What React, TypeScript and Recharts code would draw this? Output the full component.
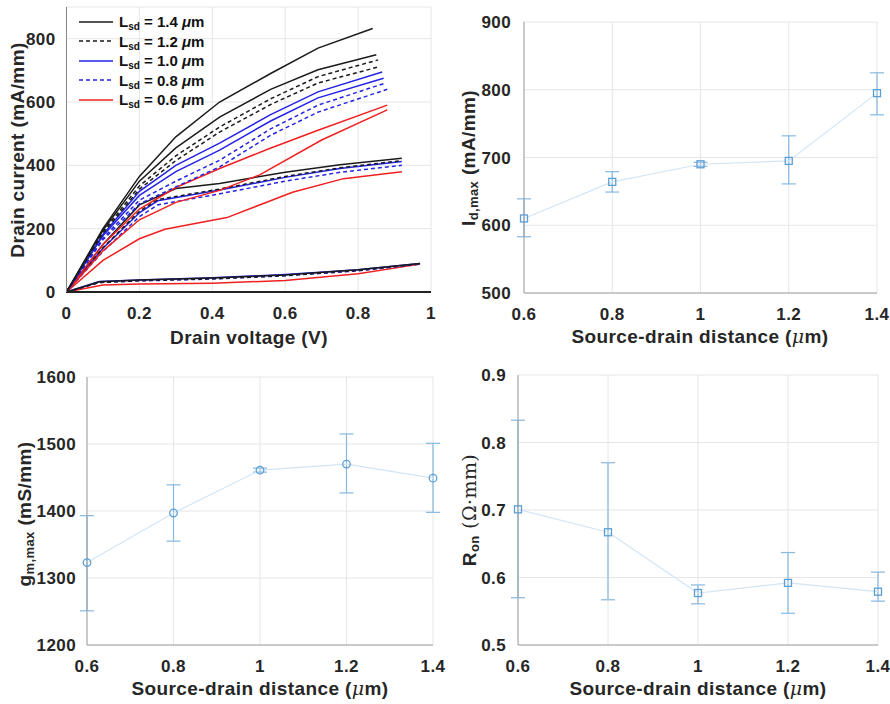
import React from 'react';
import { LineChart, Line, XAxis, YAxis, CartesianGrid, ErrorBar, Legend } from 'recharts';

const W = 890;
const H = 704;
const FONT = '"Liberation Sans", Arial, sans-serif';
const TXT = '#262626';
const GRID = '#e6e6e6';
const BORDER = '#c8c8c8';
const AXIS = '#a0a0a0';
const MARK = '#5e9fd3';
const ERR = '#86b8e0';
const LINK = '#d3e5f4';

// ---- output curves, drain voltage (V) vs drain current (mA/mm) ----
type Pt = [number, number];

// high gate bias
const hi14a: Pt[] = [[0, 0], [0.1, 200], [0.2, 365], [0.3, 490], [0.42, 600], [0.56, 690], [0.69, 770], [0.84, 832]];
const hi14b: Pt[] = [[0, 0], [0.1, 195], [0.2, 350], [0.3, 455], [0.42, 552], [0.56, 640], [0.69, 702], [0.85, 749]];
const hi12a: Pt[] = [[0, 0], [0.1, 190], [0.2, 335], [0.3, 430], [0.42, 521], [0.56, 610], [0.69, 680], [0.855, 733]];
const hi12b: Pt[] = [[0, 0], [0.1, 185], [0.2, 325], [0.3, 415], [0.42, 505], [0.56, 592], [0.69, 660], [0.86, 712]];
const hi10a: Pt[] = [[0, 0], [0.1, 182], [0.2, 318], [0.3, 400], [0.42, 470], [0.56, 560], [0.69, 632], [0.866, 695]];
const hi10b: Pt[] = [[0, 0], [0.1, 178], [0.2, 305], [0.3, 380], [0.42, 448], [0.56, 540], [0.69, 613], [0.87, 675]];
const hi08a: Pt[] = [[0, 0], [0.1, 170], [0.2, 290], [0.3, 350], [0.42, 416], [0.56, 515], [0.69, 590], [0.875, 660]];
const hi08b: Pt[] = [[0, 0], [0.1, 165], [0.2, 278], [0.3, 332], [0.42, 395], [0.56, 495], [0.69, 568], [0.88, 640]];
const hi06a: Pt[] = [[0, 0], [0.1, 150], [0.2, 262], [0.3, 330], [0.42, 390], [0.55, 450], [0.69, 511], [0.88, 590]];
const hi06b: Pt[] = [[0, 0], [0.1, 130], [0.2, 228], [0.3, 283], [0.42, 321], [0.53, 370], [0.7, 480], [0.88, 575]];

// middle gate bias
const mid14: Pt[] = [[0, 0], [0.1, 150], [0.2, 275], [0.3, 327], [0.42, 343], [0.6, 378], [0.75, 402], [0.92, 422]];
const mid12: Pt[] = [[0, 0], [0.1, 140], [0.2, 255], [0.25, 292], [0.42, 325], [0.6, 365], [0.75, 392], [0.92, 415]];
const mid10: Pt[] = [[0, 0], [0.1, 138], [0.2, 250], [0.25, 288], [0.42, 322], [0.6, 362], [0.75, 390], [0.92, 412]];
const mid08: Pt[] = [[0, 0], [0.1, 128], [0.2, 238], [0.25, 275], [0.42, 310], [0.6, 350], [0.75, 378], [0.92, 400]];
const mid06: Pt[] = [[0, 0], [0.1, 100], [0.2, 168], [0.27, 198], [0.44, 235], [0.62, 315], [0.76, 358], [0.92, 380]];

// low gate bias
const low14: Pt[] = [[0, 0], [0.09, 32], [0.2, 38], [0.4, 44], [0.6, 54], [0.8, 70], [0.97, 90]];
const low12: Pt[] = [[0, 0], [0.09, 30], [0.2, 36], [0.4, 42], [0.6, 52], [0.8, 68], [0.97, 89]];
const low10: Pt[] = [[0, 0], [0.09, 33], [0.2, 38], [0.4, 45], [0.6, 55], [0.8, 70], [0.97, 90]];
const low08: Pt[] = [[0, 0], [0.09, 30], [0.2, 35], [0.4, 41], [0.6, 51], [0.8, 67], [0.97, 88]];
const low06: Pt[] = [[0, 0], [0.1, 22], [0.2, 25], [0.4, 28], [0.6, 36], [0.8, 58], [0.97, 88]];

const lsdLabels = ['1.4', '1.2', '1.0', '0.8', '0.6'];

// which L_sd each curve belongs to (index into lsdLabels)
const curves: { pts: Pt[]; lsd: number }[] = [
  { pts: low06, lsd: 4 }, { pts: low08, lsd: 3 }, { pts: low12, lsd: 1 }, { pts: low10, lsd: 2 }, { pts: low14, lsd: 0 },
  { pts: mid06, lsd: 4 }, { pts: mid08, lsd: 3 }, { pts: mid10, lsd: 2 }, { pts: mid12, lsd: 1 }, { pts: mid14, lsd: 0 },
  { pts: hi06a, lsd: 4 }, { pts: hi06b, lsd: 4 }, { pts: hi08a, lsd: 3 }, { pts: hi08b, lsd: 3 },
  { pts: hi10a, lsd: 2 }, { pts: hi10b, lsd: 2 }, { pts: hi12a, lsd: 1 }, { pts: hi12b, lsd: 1 },
  { pts: hi14a, lsd: 0 }, { pts: hi14b, lsd: 0 },
];

const lsdStyle = [
  { color: '#1a1a1a', dash: undefined },
  { color: '#1a1a1a', dash: '4 3' },
  { color: '#2323e6', dash: undefined },
  { color: '#2323e6', dash: '4 3' },
  { color: '#f02020', dash: undefined },
];

// ---- summary vs source-drain distance ----
const lsdX = [0.6, 0.8, 1.0, 1.2, 1.4];

const idMax = [610, 664, 690, 695, 795];
const idLo = [583, 649, 687, 661, 763];
const idHi = [639, 679, 693, 732, 825];

const gmMax = [1323, 1397, 1461, 1470, 1449];
const gmLo = [1251, 1355, 1458, 1427, 1398];
const gmHi = [1393, 1439, 1464, 1515, 1501];

const ron = [0.701, 0.667, 0.577, 0.592, 0.579];
const ronLo = [0.57, 0.567, 0.561, 0.547, 0.565];
const ronHi = [0.833, 0.77, 0.589, 0.637, 0.608];

const buildTable = (y: number[], lo: number[], hi: number[]) =>
  lsdX.map((x, k) => ({ x, y: y[k], err: [y[k] - lo[k], hi[k] - y[k]] }));

interface Rect { left: number; top: number; right: number; bottom: number }
const YW = 60;
const XH = 40;
const marginFor = (r: Rect) => ({ top: r.top, left: r.left - YW, right: W - r.right, bottom: H - r.bottom - XH });

const tickStyle = { fontSize: 17, fontWeight: 'bold', fill: TXT, fontFamily: FONT, letterSpacing: 0.4 } as any;
const titleStyle = { fontSize: 19, fontWeight: 'bold', fill: TXT, fontFamily: FONT, letterSpacing: 0.4 } as any;

const xTitle = (x: number, y: number) => () => (
  <text x={x} y={y} textAnchor="middle" dominantBaseline="central" style={titleStyle}>
    Source-drain distance (<tspan fontStyle="italic" fontFamily="'DejaVu Serif', serif" fontWeight="normal">μ</tspan>m)
  </text>
);

const squareDot = (p: any) => (
  <rect key={`sq-${p.index}`} x={p.cx - 3.5} y={p.cy - 3.5} width={7} height={7} fill="none" stroke={MARK} strokeWidth={1.3} />
);
const circleDot = (p: any) => (
  <circle key={`ci-${p.index}`} cx={p.cx} cy={p.cy} r={3.8} fill="none" stroke={MARK} strokeWidth={1.3} />
);

const LegendBox = () => (
  <div style={{ fontFamily: FONT, fontWeight: 'bold', fontSize: 15, color: '#111' }}>
    {lsdLabels.map((lab, k) => (
      <div key={lab} style={{ display: 'flex', alignItems: 'center', height: 19.5, whiteSpace: 'nowrap' }}>
        <svg width={34} height={10}>
          <line x1={0} x2={34} y1={5} y2={5} stroke={lsdStyle[k].color} strokeWidth={1.6} strokeDasharray={lsdStyle[k].dash} />
        </svg>
        <span style={{ marginLeft: 6 }}>
          L<sub style={{ fontSize: 10, verticalAlign: -3, lineHeight: 0 }}>sd</sub> = {lab} <i>μ</i>m
        </span>
      </div>
    ))}
  </div>
);

const abs: React.CSSProperties = { position: 'absolute', left: 0, top: 0 };

const OutputPanel = () => {
  const r: Rect = { left: 66.5, top: 7, right: 431, bottom: 292 };
  return (
    <div style={abs}>
      <LineChart width={W} height={H} margin={marginFor(r)}>
        <CartesianGrid stroke={GRID} />
        <XAxis
          type="number" dataKey="v" domain={[0, 1]} ticks={[0, 0.2, 0.4, 0.6, 0.8, 1]} height={XH}
          tickLine={false} tickMargin={9} tick={tickStyle} axisLine={{ stroke: '#222', strokeWidth: 2 }}
          label={() => (
            <text x={249} y={337} textAnchor="middle" dominantBaseline="central" style={titleStyle}>Drain voltage (V)</text>
          )}
        />
        <YAxis
          type="number" domain={[0, 900]} ticks={[0, 200, 400, 600, 800]} width={YW}
          tickLine={false} tickMargin={5} tick={tickStyle} axisLine={{ stroke: '#888' }}
          label={() => (
            <text transform="translate(17,150) rotate(-90)" textAnchor="middle" dominantBaseline="central" style={titleStyle}>
              Drain current (mA/mm)
            </text>
          )}
        />
        <XAxis xAxisId="top" orientation="top" type="number" domain={[0, 1]} height={0} tick={false} tickLine={false} axisLine={{ stroke: BORDER }} />
        <YAxis yAxisId="right" orientation="right" type="number" domain={[0, 900]} width={0} tick={false} tickLine={false} axisLine={{ stroke: BORDER }} />
        {curves.map((c, k) => (
          <Line
            key={k}
            data={c.pts.map(([v, i]) => ({ v, i }))}
            dataKey="i"
            type="linear"
            dot={false}
            stroke={lsdStyle[c.lsd].color}
            strokeDasharray={lsdStyle[c.lsd].dash}
            strokeWidth={1.5}
            isAnimationActive={false}
          />
        ))}
        <Legend
          layout="vertical" align="center" verticalAlign="middle"
          wrapperStyle={{ left: 79, top: 12, width: 200 }}
          content={() => <LegendBox />}
        />
      </LineChart>
    </div>
  );
};

interface SummaryProps {
  r: Rect;
  data: { x: number; y: number; err: number[] }[];
  yDomain: [number, number];
  yTicks: number[];
  yGap: number;
  dot: (p: any) => React.ReactElement;
  yTitle: React.ReactNode;
  yTitlePos: [number, number];
  xTitlePos: [number, number];
}

const SummaryPanel = ({ r, data, yDomain, yTicks, yGap, dot, yTitle, yTitlePos, xTitlePos }: SummaryProps) => (
  <div style={abs}>
    <LineChart width={W} height={H} margin={marginFor(r)} data={data}>
      <CartesianGrid stroke={GRID} />
      <XAxis
        type="number" dataKey="x" domain={[0.6, 1.4]} ticks={lsdX} height={XH}
        tickLine={false} tickMargin={9} tick={tickStyle} axisLine={{ stroke: AXIS }}
        label={xTitle(xTitlePos[0], xTitlePos[1])}
      />
      <YAxis
        type="number" domain={yDomain} ticks={yTicks} width={YW}
        tickLine={false} tickMargin={yGap} tick={tickStyle} axisLine={{ stroke: AXIS }}
        label={() => (
          <text transform={`translate(${yTitlePos[0]},${yTitlePos[1]}) rotate(-90)`} textAnchor="middle" dominantBaseline="central" style={titleStyle}>
            {yTitle}
          </text>
        )}
      />
      <XAxis xAxisId="top" orientation="top" type="number" domain={[0.6, 1.4]} height={0} tick={false} tickLine={false} axisLine={{ stroke: BORDER }} />
      <YAxis yAxisId="right" orientation="right" type="number" domain={yDomain} width={0} tick={false} tickLine={false} axisLine={{ stroke: BORDER }} />
      <Line dataKey="y" type="linear" stroke={LINK} strokeWidth={1.2} dot={dot} isAnimationActive={false}>
        <ErrorBar dataKey="err" direction="y" width={7} stroke={ERR} strokeWidth={1.2} />
      </Line>
    </LineChart>
  </div>
);

const sub = (s: string) => (
  <tspan dy={5} fontSize={13}>{s}</tspan>
);

export default function App() {
  return (
    <div style={{ position: 'absolute', left: 0, top: 0, width: W, height: H, background: '#fff' }}>
      <OutputPanel />
      <SummaryPanel
        r={{ left: 524, top: 22, right: 877, bottom: 293 }}
        data={buildTable(idMax, idLo, idHi)}
        yDomain={[500, 900]} yTicks={[500, 600, 700, 800, 900]} yGap={7}
        dot={squareDot}
        yTitle={<>I{sub('d,max')}<tspan dy={-5}> (mA/mm)</tspan></>}
        yTitlePos={[468, 158]} xTitlePos={[700, 336]}
      />
      <SummaryPanel
        r={{ left: 87, top: 377, right: 433, bottom: 645 }}
        data={buildTable(gmMax, gmLo, gmHi)}
        yDomain={[1200, 1600]} yTicks={[1200, 1300, 1400, 1500, 1600]} yGap={5}
        dot={circleDot}
        yTitle={<>g{sub('m,max')}<tspan dy={-5}> (mS/mm)</tspan></>}
        yTitlePos={[24, 514]} xTitlePos={[260, 688]}
      />
      <SummaryPanel
        r={{ left: 518, top: 375, right: 878, bottom: 645 }}
        data={buildTable(ron, ronLo, ronHi)}
        yDomain={[0.5, 0.9]} yTicks={[0.5, 0.6, 0.7, 0.8, 0.9]} yGap={6}
        dot={squareDot}
        yTitle={<>R{sub('on')}<tspan dy={-5} fontWeight="normal" fontFamily="'DejaVu Serif', serif"> (Ω·mm)</tspan></>}
        yTitlePos={[469, 510]} xTitlePos={[698, 688]}
      />
    </div>
  );
}
